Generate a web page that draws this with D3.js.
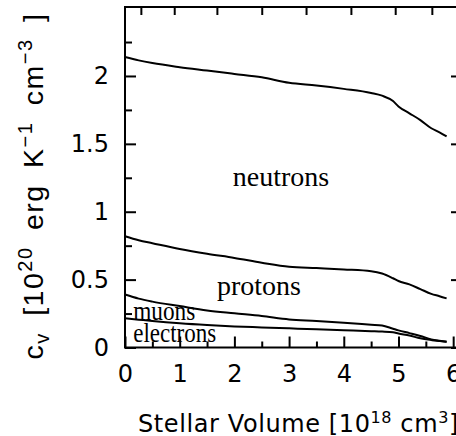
<!DOCTYPE html>
<html>
<head>
<meta charset="utf-8">
<script src="https://cdn.jsdelivr.net/npm/d3@7"></script>
<style>
  body { margin: 0; background: #fff; }
  svg { display: block; }
  .tick text { font-family: "DejaVu Sans", sans-serif; font-size: 24px; fill: #000; }
  .tick line { stroke: #000; stroke-width: 2; }
</style>
</head>
<body>
<svg id="chart" width="456" height="436"></svg>
<script>
// values (volume in 10^18 cm^3, cv in 10^20 erg/K/cm^3)
var volume    = [0, 0.25, 0.5, 1, 1.5, 2, 2.5, 3, 3.5, 4, 4.5, 4.7, 4.9, 5.0, 5.2, 5.4, 5.6, 5.75, 5.88]
var neutrons  = [2.14, 2.115, 2.095, 2.065, 2.04, 2.015, 1.99, 1.95, 1.93, 1.905, 1.875, 1.855, 1.815, 1.775, 1.725, 1.675, 1.615, 1.585, 1.555]
var protons   = [0.82, 0.79, 0.768, 0.725, 0.69, 0.66, 0.625, 0.595, 0.585, 0.575, 0.562, 0.545, 0.51, 0.49, 0.465, 0.43, 0.395, 0.378, 0.362]
var muons     = [0.39, 0.36, 0.338, 0.305, 0.273, 0.252, 0.232, 0.207, 0.196, 0.183, 0.168, 0.162, 0.138, 0.126, 0.106, 0.085, 0.06, 0.05, 0.043]
var electrons = [0.215, 0.205, 0.195, 0.178, 0.165, 0.155, 0.148, 0.141, 0.134, 0.127, 0.12, 0.117, 0.112, 0.103, 0.088, 0.068, 0.055, 0.047, 0.043]

var xMajor = [0, 1, 2, 3, 4, 5, 6]
var xMinor = [0.5, 1.5, 2.5, 3.5, 4.5, 5.5]
var yMajor = [0, 0.5, 1, 1.5, 2]
var yMinor = [0.25, 0.75, 1.25, 1.75, 2.25]
var topTicks = [0.29, 0.9, 1.68, 2.5, 3.31, 4.13, 4.94, 5.61]

var series = [
  {name: "neutrons", values: neutrons},
  {name: "protons", values: protons},
  {name: "muons", values: muons},
  {name: "electrons", values: electrons}
]

var mLeft = 125, mRight = 461, mTop = 7, mBottom = 347.5

var x = d3.scaleLinear().domain([0, 6.143]).range([mLeft, mRight])
var y = d3.scaleLinear().domain([0, 2.508]).range([mBottom, mTop])

var svg = d3.select("#chart")

// frame
svg.append("rect")
  .attr("x", mLeft).attr("y", mTop)
  .attr("width", mRight - mLeft).attr("height", mBottom - mTop)
  .attr("fill", "none").attr("stroke", "#000").attr("stroke-width", 2)

// axes, ticks pointing inward
var gx = svg.append("g").attr("transform", "translate(0," + mBottom + ")")
  .call(d3.axisBottom(x).tickValues(xMajor).tickFormat(d3.format("d")).tickSize(-11).tickPadding(17))
gx.select(".domain").remove()

var gxm = svg.append("g").attr("transform", "translate(0," + mBottom + ")")
  .call(d3.axisBottom(x).tickValues(xMinor).tickFormat("").tickSize(-6))
gxm.select(".domain").remove()

var gt = svg.append("g").attr("transform", "translate(0," + mTop + ")")
  .call(d3.axisTop(x).tickValues(topTicks).tickFormat("").tickSize(-8))
gt.select(".domain").remove()

var gy = svg.append("g").attr("transform", "translate(" + mLeft + ",0)")
  .call(d3.axisLeft(y).tickValues(yMajor).tickFormat(d3.format("")).tickSize(-11).tickPadding(16))
gy.select(".domain").remove()

var gym = svg.append("g").attr("transform", "translate(" + mLeft + ",0)")
  .call(d3.axisLeft(y).tickValues(yMinor).tickFormat("").tickSize(-7))
gym.select(".domain").remove()

var gr = svg.append("g").attr("transform", "translate(" + mRight + ",0)")
  .call(d3.axisRight(y).tickValues(yMajor).tickFormat("").tickSize(-10))
gr.select(".domain").remove()

// curves
var line = d3.line()
  .x(function(d, i) { return x(volume[i]) })
  .y(function(d) { return y(d) })
  .curve(d3.curveMonotoneX)

svg.selectAll(".curve")
  .data(series)
  .join("path")
  .attr("class", "curve")
  .attr("d", function(d) { return line(d.values) })
  .attr("fill", "none")
  .attr("stroke", "#000")
  .attr("stroke-width", 2)

// curve labels
function label(txt, px, py, size, len) {
  var t = svg.append("text")
    .attr("x", px).attr("y", py)
    .attr("font-family", "Liberation Serif, Times New Roman, serif")
    .attr("font-size", size)
    .text(txt)
  if (len) t.attr("textLength", len).attr("lengthAdjust", "spacingAndGlyphs")
}
label("neutrons", x(1.97), y(1.19), 28)
label("protons", x(1.68), y(0.39), 28)
label("muons", x(0.15), y(0.2), 27, 62)
label("electrons", x(0.15), y(0.043), 27, 83)

// x title
var xt = svg.append("text")
  .attr("x", 138).attr("y", 431.5)
  .attr("font-family", "DejaVu Sans, sans-serif")
  .attr("font-size", 24)
  .attr("letter-spacing", 0.6)
xt.append("tspan").text("Stellar Volume [10")
xt.append("tspan").attr("font-size", 16).attr("dy", -9).text("18")
xt.append("tspan").attr("dy", 9).text(" cm")
xt.append("tspan").attr("font-size", 16).attr("dy", -9).text("3")
xt.append("tspan").attr("dy", 9).text("]")

// y title
var yt = svg.append("text")
  .attr("transform", "translate(43,186) rotate(-90)")
  .attr("text-anchor", "middle")
  .attr("font-family", "Liberation Sans, Arial, sans-serif")
  .attr("font-size", 28.5)
  .attr("letter-spacing", 1.5)
  .attr("word-spacing", 7)
yt.append("tspan").text("c")
yt.append("tspan").attr("font-size", 20).attr("dy", 6).text("v")
yt.append("tspan").attr("dy", -6).text(" [10")
yt.append("tspan").attr("font-size", 20).attr("dy", -11).text("20")
yt.append("tspan").attr("dy", 11).text(" erg K")
yt.append("tspan").attr("font-size", 20).attr("dy", -11).text("\u22121")
yt.append("tspan").attr("dy", 11).text(" cm")
yt.append("tspan").attr("font-size", 20).attr("dy", -11).text("\u22123")
yt.append("tspan").attr("dy", 11).text(" ]")
</script>
</body>
</html>
